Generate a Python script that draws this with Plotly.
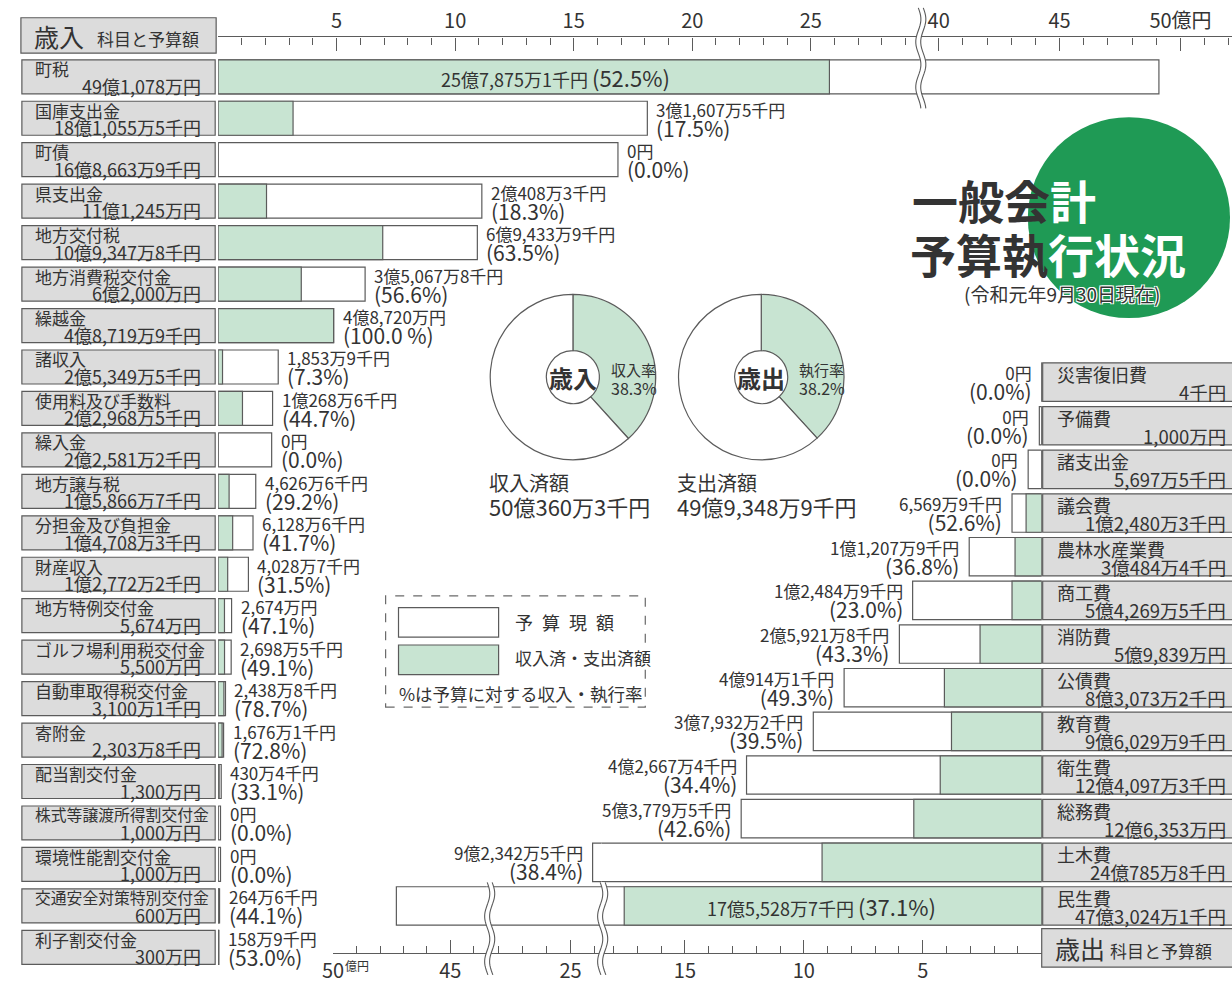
import math
import plotly.graph_objects as go

W, H = 1232, 984
FONT = "Noto Sans CJK JP"
INK = "#333333"
EDGE = "#5b5b5b"
GREEN = "#c8e4d2"
BOX = "#dcdcdc"
TITLE_GREEN = "#1f9a55"
OKU = 10000.0  # 万円 per 億円

# ---------------- 歳入 (revenue) ----------------
rev_names = ["町税", "国庫支出金", "町債", "県支出金", "地方交付税", "地方消費税交付金", "繰越金", "諸収入",
             "使用料及び手数料", "繰入金", "地方譲与税", "分担金及び負担金", "財産収入", "地方特例交付金",
             "ゴルフ場利用税交付金", "自動車取得税交付金", "寄附金", "配当割交付金", "株式等譲渡所得割交付金",
             "環境性能割交付金", "交通安全対策特別交付金", "利子割交付金"]
rev_budget_label = ["49億1,078万円", "18億1,055万5千円", "16億8,663万9千円", "11億1,245万円", "10億9,347万8千円",
                    "6億2,000万円", "4億8,719万9千円", "2億5,349万5千円", "2億2,968万5千円", "2億2,581万2千円",
                    "1億5,866万7千円", "1億4,708万3千円", "1億2,772万2千円", "5,674万円", "5,500万円",
                    "3,100万1千円", "2,303万8千円", "1,300万円", "1,000万円", "1,000万円", "600万円", "300万円"]
rev_budget = [491078, 181055.5, 168663.9, 111245, 109347.8, 62000, 48719.9, 25349.5, 22968.5, 22581.2,
              15866.7, 14708.3, 12772.2, 5674, 5500, 3100.1, 2303.8, 1300, 1000, 1000, 600, 300]  # 万円
rev_received_label = ["25億7,875万1千円", "3億1,607万5千円", "0円", "2億408万3千円", "6億9,433万9千円",
                      "3億5,067万8千円", "4億8,720万円", "1,853万9千円", "1億268万6千円", "0円", "4,626万6千円",
                      "6,128万6千円", "4,028万7千円", "2,674万円", "2,698万5千円", "2,438万8千円", "1,676万1千円",
                      "430万4千円", "0円", "0円", "264万6千円", "158万9千円"]
rev_received = [257875.1, 31607.5, 0, 20408.3, 69433.9, 35067.8, 48720, 1853.9, 10268.6, 0, 4626.6,
                6128.6, 4028.7, 2674, 2698.5, 2438.8, 1676.1, 430.4, 0, 0, 264.6, 158.9]  # 万円
rev_pct = ["52.5%", "17.5%", "0.0%", "18.3%", "63.5%", "56.6%", "100.0 %", "7.3%", "44.7%", "0.0%", "29.2%",
           "41.7%", "31.5%", "47.1%", "49.1%", "78.7%", "72.8%", "33.1%", "0.0%", "0.0%", "44.1%", "53.0%"]

# ---------------- 歳出 (expenditure) ----------------
exp_names = ["災害復旧費", "予備費", "諸支出金", "議会費", "農林水産業費", "商工費", "消防費", "公債費",
             "教育費", "衛生費", "総務費", "土木費", "民生費"]
exp_budget_label = ["4千円", "1,000万円", "5,697万5千円", "1億2,480万3千円", "3億484万4千円", "5億4,269万5千円",
                    "5億9,839万円", "8億3,073万2千円", "9億6,029万9千円", "12億4,097万3千円", "12億6,353万円",
                    "24億785万8千円", "47億3,024万1千円"]
exp_budget = [0.4, 1000, 5697.5, 12480.3, 30484.4, 54269.5, 59839, 83073.2, 96029.9, 124097.3, 126353,
              240785.8, 473024.1]  # 万円
exp_spent_label = ["0円", "0円", "0円", "6,569万9千円", "1億1,207万9千円", "1億2,484万9千円", "2億5,921万8千円",
                   "4億914万1千円", "3億7,932万2千円", "4億2,667万4千円", "5億3,779万5千円", "9億2,342万5千円",
                   "17億5,528万7千円"]
exp_spent = [0, 0, 0, 6569.9, 11207.9, 12484.9, 25921.8, 40914.1, 37932.2, 42667.4, 53779.5, 92342.5,
             175528.7]  # 万円
exp_pct = ["0.0%", "0.0%", "0.0%", "52.6%", "36.8%", "23.0%", "43.3%", "49.3%", "39.5%", "34.4%", "42.6%",
           "38.4%", "37.1%"]

# ---------------- donut summaries ----------------
pie_titles = ["歳入", "歳出"]
pie_rate_names = ["収入率", "執行率"]
pie_rates = [38.3, 38.2]
pie_done_names = ["収入済額", "支出済額"]
pie_done_amounts = ["50億360万3千円", "49億9,348万9千円"]

# ---------------- axis ticks ----------------
top_ticks_a = [5, 10, 15, 20, 25]
top_ticks_b = [40, 45, 50]
top_ticks_b_text = ["40", "45", "50億円"]
bot_ticks_3 = [5, 10, 15]
bot_ticks_4 = [25]
bot_ticks_5 = [45, 50]

# broken-axis segment ranges (億円)
SEG_TOP_A = [0, 29.6]
SEG_TOP_B = [39.22, 52.13]
SEG_BOT_3 = [18.5, 0]
SEG_BOT_4 = [28.5, 23.7]
SEG_BOT_5 = [50, 43.45]


def px(x):
    return min(max(x / W, 0), 1)


def py(y):
    return 1 - y / H


def ppx(x):
    return x / W


rb = [v / OKU for v in rev_budget]
rr = [v / OKU for v in rev_received]
eb = [v / OKU for v in exp_budget]
es = [v / OKU for v in exp_spent]

fig = go.Figure()

common = dict(orientation="h", hoverinfo="skip", showlegend=False)
# revenue label boxes
fig.add_trace(go.Bar(x=[1] * len(rev_names), y=rev_names, xaxis="x6", yaxis="y", width=0.82,
                     marker=dict(color=BOX, line=dict(color=EDGE, width=1.2)), **common))
for xa in ["x", "x2"]:
    fig.add_trace(go.Bar(x=rb, y=rev_names, xaxis=xa, yaxis="y", width=0.82,
                         marker=dict(color="white", line=dict(color=EDGE, width=1.2)), **common))
    fig.add_trace(go.Bar(x=rr, y=rev_names, xaxis=xa, yaxis="y", width=0.82,
                         marker=dict(color=GREEN, line=dict(color=EDGE, width=1.2)), **common))
# expenditure label boxes
fig.add_trace(go.Bar(x=[1] * len(exp_names), y=exp_names, xaxis="x7", yaxis="y2", width=0.88,
                     marker=dict(color=BOX, line=dict(color=EDGE, width=1.2)), **common))
for xa in ["x3", "x4", "x5"]:
    fig.add_trace(go.Bar(x=eb, y=exp_names, xaxis=xa, yaxis="y2", width=0.88,
                         marker=dict(color="white", line=dict(color=EDGE, width=1.2)), **common))
    fig.add_trace(go.Bar(x=es, y=exp_names, xaxis=xa, yaxis="y2", width=0.88,
                         marker=dict(color=GREEN, line=dict(color=EDGE, width=1.2)), **common))

# donuts
pie_centers = [(567, 383), (757, 383)]
R = 84
for (cx, cy), rate in zip(pie_centers, pie_rates):
    fig.add_trace(go.Pie(values=[rate, 100 - rate], sort=False, direction="clockwise", rotation=0, hole=0.32,
                         marker=dict(colors=[GREEN, "white"], line=dict(color=EDGE, width=1.2)),
                         textinfo="none", hoverinfo="skip", showlegend=False,
                         domain=dict(x=[px(cx - R), px(cx + R)], y=[py(cy + R), py(cy - R)])))

# ---------------- axes ----------------
axis_style = dict(showline=True, linecolor=EDGE, linewidth=1.2, ticks="inside", ticklen=13, tickwidth=1.2,
                  tickcolor=EDGE, showgrid=False, zeroline=False, fixedrange=True,
                  tickfont=dict(family=FONT, size=20, color=INK),
                  minor=dict(ticks="inside", ticklen=7, tickwidth=1.2, tickcolor=EDGE, dtick=1, tick0=0,
                             showgrid=False))
top_pos = py(37)
bot_pos = py(968)
layout_axes = dict(
    xaxis=dict(domain=[px(209), px(917)], range=SEG_TOP_A, side="top", anchor="free", position=top_pos,
               tickmode="array", tickvals=top_ticks_a, ticktext=[str(t) for t in top_ticks_a], **axis_style),
    xaxis2=dict(domain=[px(917), 1], range=SEG_TOP_B, side="top", anchor="free", position=top_pos,
                tickmode="array", tickvals=top_ticks_b, ticktext=top_ticks_b_text, **axis_style),
    xaxis3=dict(domain=[px(596), px(1040)], range=SEG_BOT_3, side="bottom", anchor="free", position=bot_pos,
                tickmode="array", tickvals=bot_ticks_3, ticktext=[str(t) for t in bot_ticks_3], **axis_style),
    xaxis4=dict(domain=[px(480), px(596)], range=SEG_BOT_4, side="bottom", anchor="free", position=bot_pos,
                tickmode="array", tickvals=bot_ticks_4, ticktext=[str(t) for t in bot_ticks_4], **axis_style),
    xaxis5=dict(domain=[px(325), px(480)], range=SEG_BOT_5, side="bottom", anchor="free", position=bot_pos,
                tickmode="array", tickvals=bot_ticks_5, ticktext=[str(t) for t in bot_ticks_5], **axis_style),
    xaxis6=dict(domain=[px(10), px(207)], range=[-0.005, 1.005], visible=False, anchor="y", fixedrange=True),
    xaxis7=dict(domain=[px(1040), 1], range=[-0.005, 0.99], visible=False, anchor="y2", fixedrange=True),
    yaxis=dict(domain=[max(py(962 + 21.05), 0), py(78 - 21.05)], type="category", categoryorder="array",
               categoryarray=rev_names, range=[len(rev_names) - 0.5, -0.5], visible=False, anchor="x",
               fixedrange=True),
    yaxis2=dict(domain=[py(920 + 22.17), py(388 - 22.17)], type="category", categoryorder="array",
                categoryarray=exp_names, range=[len(exp_names) - 0.5, -0.5], visible=False, anchor="x3",
                fixedrange=True),
)

ann = []


def text(x, y, s, size, xref="paper", yref="paper", xanchor="left", yanchor="middle", color=INK,
         xshift=0, yshift=0, align="left", **fontkw):
    ann.append(dict(x=x, y=y, text=s, xref=xref, yref=yref, xanchor=xanchor, yanchor=yanchor, showarrow=False,
                    xshift=xshift, yshift=yshift, borderpad=0, align=align,
                    font=dict(family=FONT, size=size, color=color, **fontkw)))


def two_line(amount, pct):
    return (f"<span style='font-size:17px'>{amount}</span><br>"
            f"<span style='font-size:21px'>({pct})</span>")


# revenue label box texts and bar labels
for i, name in enumerate(rev_names):
    nsize = min(17, 174 / len(name))
    text(0, name, name, nsize, xref="x6", yref="y", xshift=12, yshift=8)
    text(1, name, rev_budget_label[i], 18, xref="x6", yref="y", xanchor="right", xshift=-13, yshift=-9)
    if i == 0:
        text(rr[i] / 2, name, f"{rev_received_label[i]} <span style='font-size:22px'>({rev_pct[i]})</span>", 18,
             xref="x", yref="y", xanchor="center", xshift=32)
    else:
        text(rb[i], name, two_line(rev_received_label[i], rev_pct[i]), 15, xref="x", yref="y", xshift=8,
             yshift=-1.5, align="left")


def exp_axis(v):
    if v <= SEG_BOT_3[0]:
        return "x3"
    if v <= SEG_BOT_4[0]:
        return "x4"
    return "x5"


for i, name in enumerate(exp_names):
    text(0, name, name, 18, xref="x7", yref="y2", xshift=13, yshift=8)
    text(0.965, name, exp_budget_label[i], 18.5, xref="x7", yref="y2", xanchor="right", yshift=-10)
    if i == len(exp_names) - 1:
        text(es[i] / 2, name, f"{exp_spent_label[i]} <span style='font-size:22px'>({exp_pct[i]})</span>", 18,
             xref="x3", yref="y2", xanchor="center", xshift=-11)
    else:
        xa = exp_axis(eb[i])
        text(eb[i], name, two_line(exp_spent_label[i], exp_pct[i]), 15, xref=xa, yref="y2", xanchor="right",
             xshift=-9, yshift=-1, align="right")

# small "億円" unit on bottom axis
text(px(336), py(980), "億円", 12, yanchor="middle")

# donut texts
for k, (cx, cy) in enumerate(pie_centers):
    text(px(cx), py(cy), f"<b>{pie_titles[k]}</b>", 24, xanchor="center")
    text(px(cx + 37), py(cy - 8), pie_rate_names[k], 15)
    text(px(cx + 37), py(cy + 11), f"{pie_rates[k]}%", 16)
    text(px(cx - 86), py(490), pie_done_names[k], 20)
    text(px(cx - 86), py(514), pie_done_amounts[k], 22)

# headers
text(px(22), py(37), "歳入", 25)
text(px(86), py(39), "科目と予算額", 17)
text(px(1052), py(963), "歳出", 25)
text(px(1108), py(965), "科目と予算額", 17)

# title
text(px(908), py(202), "<b>一般会<span style='color:white'>計</span></b>", 46)
text(px(906), py(257), "<b>予算執<span style='color:white'>行状況</span></b>", 46)
text(px(1060), py(298), "(令和元年9月30日現在)", 19, xanchor="center",
     shadow="1px 1px 0 #fff, -1px -1px 0 #fff, 1px -1px 0 #fff, -1px 1px 0 #fff")

# legend
text(px(508), py(632), "予\u2002算\u2002現\u2002額", 18)
text(px(508), py(668), "収入済・支出済額", 17)
text(px(390), py(704), "%は予算に対する収入・執行率", 17.5)

shapes = []


def rect(x0, y0, x1, y1, fill, line=EDGE, width=1.2, dash="solid", layer="above"):
    shapes.append(dict(type="rect", xref="paper", yref="paper", x0=ppx(x0), x1=ppx(x1), y0=py(y1), y1=py(y0),
                       fillcolor=fill, line=dict(color=line, width=width, dash=dash), layer=layer))


# title circle
shapes.append(dict(type="circle", xref="paper", yref="paper", x0=ppx(1026), x1=ppx(1230), y0=py(323),
                   y1=py(119), fillcolor=TITLE_GREEN, line=dict(width=0), layer="below"))
rect(10, 18, 207, 54, BOX, layer="below")
rect(1040, 943, 1240, 982, BOX, layer="below")
rect(378, 605, 640, 718, "rgba(0,0,0,0)", line="#6a6a6a", width=1.2, dash="dash")
rect(391, 617, 492, 647, "white")
rect(391, 655, 492, 685, GREEN)


def wave_band(xc, y_top, y_bot, gap=5, amp=2.6, period=46):
    n = 40
    left, right = [], []
    for k in range(n + 1):
        y = y_top + (y_bot - y_top) * k / n
        dx = amp * math.sin(2 * math.pi * (y - y_top) / period)
        left.append((xc - gap / 2 + dx, y))
        right.append((xc + gap / 2 + dx, y))
    band = "M " + " L ".join(f"{ppx(x):.5f},{py(y):.5f}" for x, y in left + right[::-1]) + " Z"
    shapes.append(dict(type="path", xref="paper", yref="paper", path=band, fillcolor="white",
                       line=dict(width=0), layer="above"))
    for side in (left, right):
        p = "M " + " L ".join(f"{ppx(x):.5f},{py(y):.5f}" for x, y in side)
        shapes.append(dict(type="path", xref="paper", yref="paper", path=p, line=dict(color=EDGE, width=1.1),
                           layer="above"))


wave_band(918, 8, 110)
wave_band(483, 896, 990)
wave_band(597, 896, 990)

fig.update_layout(width=W, height=H, margin=dict(l=0, r=0, t=0, b=0), paper_bgcolor="white",
                  plot_bgcolor="rgba(0,0,0,0)", barmode="overlay", showlegend=False,
                  font=dict(family=FONT, color=INK), annotations=ann, shapes=shapes, **layout_axes)

fig.write_html("out.html", config={"displayModeBar": False},
               post_script=("document.documentElement.style.overflow='hidden';"
                            "document.body.style.margin='0';document.body.style.overflow='hidden';"))
